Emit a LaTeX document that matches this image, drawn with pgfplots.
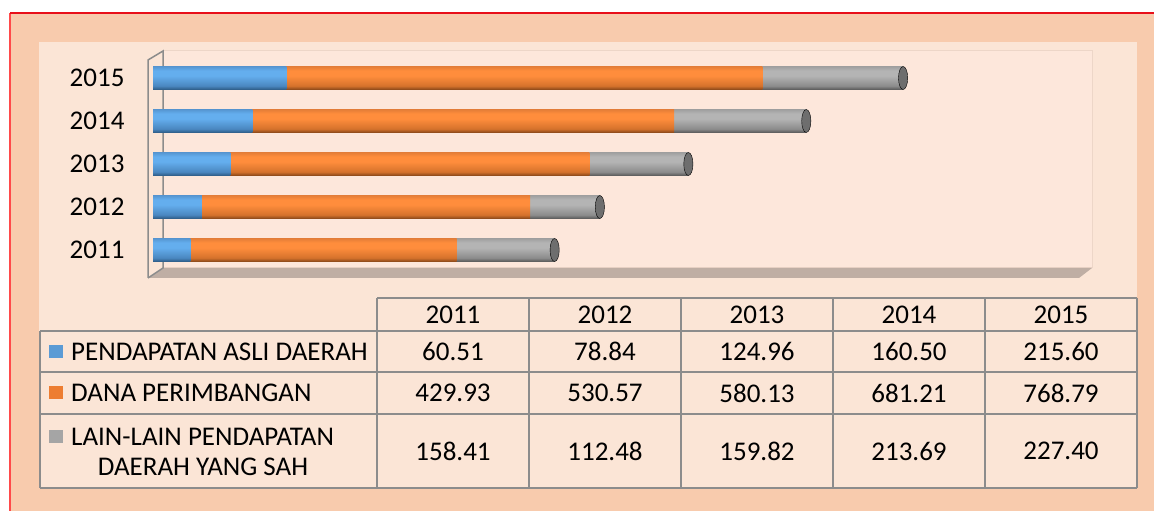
\documentclass[border=0pt]{standalone}
\usepackage{pgfplots}
\pgfplotsset{compat=1.18}
\usepackage{pgfplotstable}
\usepackage{fontspec}
\setmainfont{Carlito}

\definecolor{outerbg}{HTML}{F8CBAD}
\definecolor{innerbg}{HTML}{FBE5D6}
\definecolor{wallbg}{HTML}{FDE7DB}
\definecolor{wallline}{HTML}{EDD6C8}
\definecolor{floorc}{HTML}{BFAEA4}
\definecolor{gridgray}{HTML}{8C8C8C}
\definecolor{redtop}{HTML}{E8101A}
\definecolor{redleft}{HTML}{FF4A4A}
\definecolor{legblue}{HTML}{5B9BD5}
\definecolor{legorange}{HTML}{ED7D31}
\definecolor{leggray}{HTML}{A5A5A5}
\definecolor{capgray}{HTML}{6E6E6E}

\definecolor{bluD}{HTML}{2E5C86}
\definecolor{bluM}{HTML}{4A87C0}
\definecolor{bluL}{HTML}{64AEEE}
\definecolor{bluT}{HTML}{5696D2}
\definecolor{oraD}{HTML}{8A481A}
\definecolor{oraM}{HTML}{D5722C}
\definecolor{oraL}{HTML}{FF8D3C}
\definecolor{oraT}{HTML}{E57E38}
\definecolor{graD}{HTML}{5A5A5A}
\definecolor{graM}{HTML}{8C8C8C}
\definecolor{graL}{HTML}{B4B4B4}
\definecolor{graT}{HTML}{A0A0A0}

\pgfdeclareverticalshading{cylblue}{100bp}{color(0bp)=(bluD); color(25bp)=(bluD); color(33bp)=(bluM); color(55bp)=(bluL); color(66bp)=(bluL); color(75bp)=(bluT); color(100bp)=(bluT)}
\pgfdeclareverticalshading{cylorange}{100bp}{color(0bp)=(oraD); color(25bp)=(oraD); color(33bp)=(oraM); color(55bp)=(oraL); color(66bp)=(oraL); color(75bp)=(oraT); color(100bp)=(oraT)}
\pgfdeclareverticalshading{cylgray}{100bp}{color(0bp)=(graD); color(25bp)=(graD); color(33bp)=(graM); color(55bp)=(graL); color(66bp)=(graL); color(75bp)=(graT); color(100bp)=(graT)}

\newcommand\tf{\fontsize{27}{30}\selectfont}

\pgfplotstableread{
yr  pad     dp      lain
0   60.51   429.93  158.41
1   78.84   530.57  112.48
2   124.96  580.13  159.82
3   160.50  681.21  213.69
4   215.60  768.79  227.40
}\data

\begin{document}
\begin{tikzpicture}[x=1pt,y=1pt]
\useasboundingbox (0,0) rectangle (1154,511);
\fill[white] (0,0) rectangle (1154,511);
\fill[outerbg] (10,0) rectangle (1154,498);
\draw[redleft, line width=1.2pt] (10,0) -- (10,498);
\draw[redtop, line width=1.2pt] (10,498) -- (1154,498);
\fill[innerbg] (39,23) rectangle (1137,469);
% back wall
\filldraw[fill=wallbg, draw=wallline, line width=1pt] (163,243) rectangle (1092,460);
% left wall
\fill[innerbg] (148,233) -- (148,451) -- (163,460) -- (163,243) -- cycle;
% floor
\fill[floorc] (148,233) -- (163,243) -- (1092,243) -- (1079,233) -- cycle;
\draw[gridgray, line width=1.5pt] (148,233) -- (148,451) -- (163,460) -- (163,243) -- (148,233);

\begin{axis}[
  at={(153pt,239.5pt)}, anchor=south west,
  scale only axis, width=928.5pt, height=215pt,
  xmin=0, xmax=1500, ymin=-0.5, ymax=4.5,
  xbar, bar width=23pt, bar shift=0pt,
  axis line style={draw=none},
  xtick=\empty, ytick={0,1,2,3,4},
  yticklabels={2011,2012,2013,2014,2015},
  major tick length=0pt,
  yticklabel style={font=\tf, text=black, xshift=-25pt},
]
% one bar per plot so that each bar gets its own cylinder shading;
% bars overlap from zero: total (grey), then PAD+DP (orange), then PAD (blue)
\pgfplotsinvokeforeach{0,1,2,3,4}{
  \addplot[draw=none, shade, shading=cylgray, restrict y to domain=#1:#1]
    table[x expr=\thisrow{pad}+\thisrow{dp}+\thisrow{lain}, y=yr] {\data};
  \addplot[draw=none, shade, shading=cylorange, restrict y to domain=#1:#1]
    table[x expr=\thisrow{pad}+\thisrow{dp}, y=yr] {\data};
  \addplot[draw=none, shade, shading=cylblue, restrict y to domain=#1:#1]
    table[x=pad, y=yr] {\data};
}
% end caps of the cylinders
\addplot[only marks, mark=*, mark size=11.5pt,
  mark options={xscale=0.4, fill=capgray, draw=none}]
  table[x expr=\thisrow{pad}+\thisrow{dp}+\thisrow{lain}, y=yr] {\data};
\end{axis}

% data table
\begin{scope}[gridgray, line width=1.5pt]
\draw (377,213) -- (1137,213);
\foreach \yy in {180,139,97,23} \draw (40,\yy) -- (1137,\yy);
\draw (40,180) -- (40,23);
\foreach \xx in {377,529,681,833,985,1137} \draw (\xx,213) -- (\xx,23);
\end{scope}

\foreach \xx/\t in {453/2011,605/2012,757/2013,909/2014,1061/2015}
  \node[font=\tf, inner sep=0pt] at (\xx,196.5) {\t};
\foreach \xx/\t in {453/60.51,605/78.84,757/124.96,909/160.50,1061/215.60}
  \node[font=\tf, inner sep=0pt] at (\xx,159.5) {\t};
\foreach \xx/\t in {453/429.93,605/530.57,757/580.13,909/681.21,1061/768.79}
  \node[font=\tf, inner sep=0pt] at (\xx,118) {\t};
\foreach \xx/\t in {453/158.41,605/112.48,757/159.82,909/213.69,1061/227.40}
  \node[font=\tf, inner sep=0pt] at (\xx,60) {\t};

\fill[legblue] (49,153) rectangle (63,166);
\node[font=\tf, inner sep=0pt, anchor=west] at (71,159.5) {PENDAPATAN ASLI DAERAH};
\fill[legorange] (49,112) rectangle (63,125);
\node[font=\tf, inner sep=0pt, anchor=west] at (71,118) {DANA PERIMBANGAN};
\fill[leggray] (49,68) rectangle (63,81);
\node[font=\tf, inner sep=0pt, anchor=west] at (71,74) {LAIN-LAIN PENDAPATAN};
\node[font=\tf, inner sep=0pt] at (203,44) {DAERAH YANG SAH};
\end{tikzpicture}
\end{document}
